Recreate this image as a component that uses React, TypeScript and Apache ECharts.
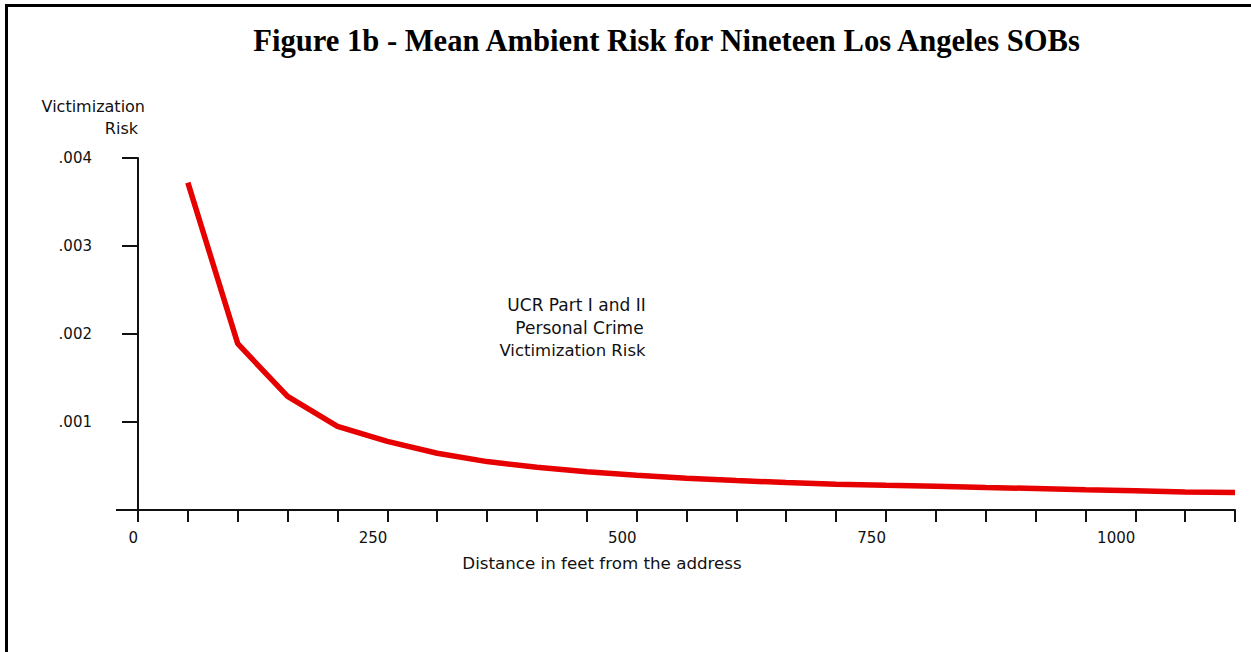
import React, { useEffect, useRef } from 'react';
import * as echarts from 'echarts';

// Distance from the address (feet)
const distances = [50, 100, 150, 200, 250, 300, 350, 400, 450, 500, 550, 600, 650, 700, 750, 800, 850, 900, 950, 1000, 1050, 1100];
// Mean ambient victimization risk
const risk = [0.00372, 0.00189, 0.00129, 0.00095, 0.00078, 0.000645, 0.00055, 0.000485, 0.000435, 0.000395, 0.00036, 0.000335, 0.000312, 0.000292, 0.00028, 0.000269, 0.000256, 0.000244, 0.00023, 0.000218, 0.000205, 0.000198];

const xLabelValues = [0, 250, 500, 750, 1000];
const titleText = 'Figure 1b - Mean Ambient Risk for Nineteen Los Angeles SOBs';
const yNameLines = ['Victimization', 'Risk'];
const noteLines = ['UCR Part I and II', 'Personal Crime', 'Victimization Risk'];
const xName = 'Distance in feet from the address';

const SANS = '"DejaVu Sans", Verdana, sans-serif';

export default function App() {
  const ref = useRef<HTMLDivElement>(null);

  useEffect(() => {
    if (!ref.current) return;
    const chart = echarts.init(ref.current, undefined, { renderer: 'svg' });
    const axisColor = '#111';
    chart.setOption({
      animation: false,
      backgroundColor: '#ffffff',
      grid: { left: 138, top: 158, width: 1097, height: 352, containLabel: false },
      xAxis: {
        type: 'value',
        min: 0,
        max: 1100,
        interval: 50,
        axisLine: { show: true, onZero: false, lineStyle: { color: axisColor, width: 2 } },
        axisTick: { show: true, inside: false, length: 12, lineStyle: { color: axisColor, width: 2 } },
        splitLine: { show: false },
        axisLabel: {
          margin: 20,
          align: 'right',
          color: '#111',
          fontFamily: SANS,
          fontSize: 15,
          formatter: (v: number) => (xLabelValues.includes(v) ? String(v) : ''),
        },
      },
      yAxis: {
        type: 'value',
        min: 0,
        max: 0.004,
        interval: 0.001,
        axisLine: { show: true, lineStyle: { color: axisColor, width: 2 } },
        axisTick: { show: true, inside: false, length: 16, lineStyle: { color: axisColor, width: 2 } },
        splitLine: { show: false },
        axisLabel: {
          margin: 46,
          color: '#111',
          fontFamily: SANS,
          fontSize: 15,
          formatter: (v: number) => (v === 0 ? '' : '.00' + Math.round(v * 1000)),
        },
      },
      series: [
        {
          type: 'line',
          data: distances.map((d, i) => [d, risk[i]]),
          showSymbol: false,
          lineStyle: { color: '#e60000', width: 5.5 },
          z: 3,
        },
      ],
      graphic: [
        {
          type: 'rect',
          shape: { x: 6.5, y: 5.5, width: 1400, height: 900 },
          style: { fill: 'none', stroke: '#000', lineWidth: 3 },
          z: 10,
        },
        {
          type: 'line',
          shape: { x1: 116, y1: 510, x2: 138, y2: 510 },
          style: { stroke: axisColor, lineWidth: 2 },
        },
        {
          type: 'text',
          x: 666.5,
          y: 41,
          style: {
            text: titleText,
            fontFamily: '"Liberation Serif", "Times New Roman", serif',
            fontWeight: 'bold',
            fontSize: 30.6,
            fill: '#000',
            align: 'center',
            verticalAlign: 'middle',
          },
        },
        {
          type: 'text',
          x: 145,
          y: 106,
          style: { text: yNameLines[0], fontFamily: SANS, fontSize: 16, fill: '#111', align: 'right', verticalAlign: 'middle' },
        },
        {
          type: 'text',
          x: 138,
          y: 128,
          style: { text: yNameLines[1], fontFamily: SANS, fontSize: 16, fill: '#111', align: 'right', verticalAlign: 'middle' },
        },
        {
          type: 'text',
          x: 576.5,
          y: 305,
          style: { text: noteLines[0], fontFamily: SANS, fontSize: 17, fill: '#111', align: 'center', verticalAlign: 'middle' },
        },
        {
          type: 'text',
          x: 579.5,
          y: 328,
          style: { text: noteLines[1], fontFamily: SANS, fontSize: 17, fill: '#111', align: 'center', verticalAlign: 'middle' },
        },
        {
          type: 'text',
          x: 572.5,
          y: 350,
          style: { text: noteLines[2], fontFamily: SANS, fontSize: 16.5, fill: '#111', align: 'center', verticalAlign: 'middle' },
        },
        {
          type: 'text',
          x: 602,
          y: 563,
          style: { text: xName, fontFamily: SANS, fontSize: 16.7, fill: '#111', align: 'center', verticalAlign: 'middle' },
        },
      ],
    });
    return () => chart.dispose();
  }, []);

  return (
    <div
      ref={ref}
      style={{ position: 'fixed', left: 0, top: 0, width: 1251, height: 652, background: '#fff' }}
    />
  );
}
